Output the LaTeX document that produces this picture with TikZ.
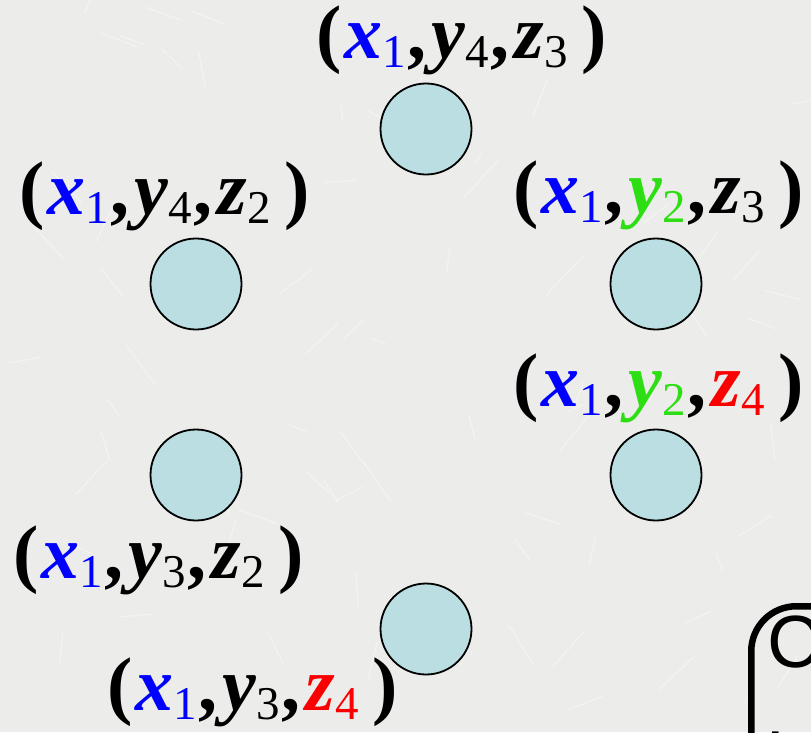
\documentclass[tikz,border=0pt]{standalone}
\usepackage{fontspec}
\setmainfont{Liberation Serif}
\setsansfont{Liberation Sans}
\usetikzlibrary{positioning}

\definecolor{paper}{RGB}{236,236,234}
\definecolor{cyanfill}{RGB}{186,222,226}
\definecolor{ygreen}{RGB}{45,222,18}
\definecolor{zred}{RGB}{250,0,0}

% one coloured variable with its index
\newcommand\var[3]{{\color{#1}\bfseries\itshape #2}{\color{#1}\fontsize{47}{47}\selectfont\mdseries\upshape\raisebox{-0.2em}{#3}}}
% a whole triple (x_1, y_k, z_m)
\newcommand\triple[4]{(\kern2pt\var{blue}{x}{1}\kern2pt,\kern5pt\var{#1}{y}{#2}\kern2pt,\kern5pt\var{#3}{z}{#4}\kern14pt)}

\begin{document}
\begin{tikzpicture}[
  x=1pt,y=-1pt,
  site/.style={circle,draw=black,fill=cyanfill,line width=1.8pt,minimum size=91pt,inner sep=0pt},
  coord/.style={font=\fontsize{76}{76}\selectfont\bfseries,inner sep=0pt},
  box/.style={draw=black,line width=6.5pt,rounded corners=45pt,anchor=north west,
    text width=160pt,text depth=230pt,align=left,inner xsep=16pt,inner ysep=10pt,
    font=\sffamily\fontsize{74}{96}\selectfont},
]
\useasboundingbox (0,0) rectangle (811,732);
\fill[paper] (0,0) rectangle (811,732);
\clip (0,0) rectangle (811,732);

% faint marble streaks
\pgfmathsetseed{7}
\foreach \i in {1,...,70}
  \draw[white,opacity=0.4,line width=1.2pt]
    ({rnd*811},{rnd*732}) -- ++({rand*40},{rand*40});

% the six points
\node[site] (top) at (426,129) {};
\node[site] (ul) at (196,284) {};
\node[site] (ur) at (656,284) {};
\node[site] (ll) at (196,475) {};
\node[site] (lr) at (656,475) {};
\node[site] (bot) at (426,629) {};

% their coordinates
\node[coord] (ltop) at (462,40) {\triple{black}{4}{black}{3}};
\node[coord] (lul) at (165,196) {\triple{black}{4}{black}{2}};
\node[coord] (lur) at (659,195) {\triple{ygreen}{2}{black}{3}};
\node[coord] (llr) at (659,388) {\triple{ygreen}{2}{zred}{4}};
\node[coord] (lll) at (159,560) {\triple{black}{3}{black}{2}};
\node[coord] (lbot) at (253,692) {\triple{black}{3}{zred}{4}};

% clipped box at the corner
\node[box] (legend) at (748,603) {C\\[22pt]l};
\end{tikzpicture}
\end{document}
